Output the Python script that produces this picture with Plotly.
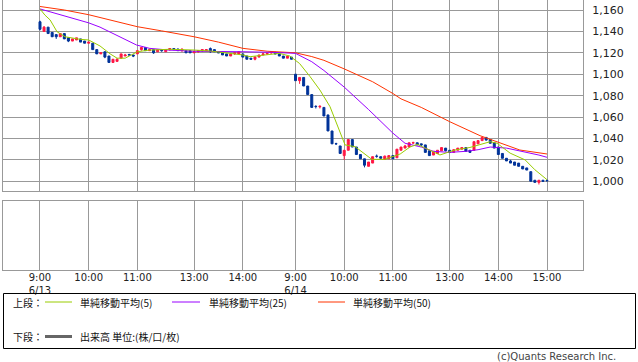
import plotly.graph_objects as go

W, H = 638, 362

# ---------------- data ----------------
# 5-minute bars, index 0 = 6/13 9:00 ... index 125 = 6/14 15:00
bar_index = list(range(126))
opens = [1149, 1140, 1144, 1139, 1137, 1135, 1138, 1134, 1131, 1132,
         1133, 1131, 1129, 1129, 1123, 1119, 1121, 1117, 1111, 1112,
         1115, 1117, 1118.5, 1118, 1119, 1123, 1125, 1122, 1123, 1121,
         1123, 1121, 1123, 1124, 1123.5, 1122, 1122, 1122, 1120, 1121,
         1122, 1122, 1124, 1123, 1121, 1120, 1119, 1117, 1119, 1119,
         1119, 1117, 1115, 1114, 1116, 1118, 1119, 1120, 1120, 1119,
         1117, 1115, 1116,
         1100, 1094, 1097, 1089, 1081, 1070, 1069.5, 1069, 1062, 1047,
         1035.2, 1033, 1024, 1029, 1039, 1032, 1025, 1021, 1014, 1017,
         1023.5, 1023, 1020.5, 1021, 1024, 1022, 1029, 1031, 1032, 1035.8,
         1036, 1035, 1034, 1028.5, 1024.5, 1026, 1028.5, 1031, 1029, 1027,
         1029, 1030, 1031.5, 1029, 1029, 1035, 1038, 1041, 1039, 1036,
         1032, 1026, 1021.5, 1019, 1018, 1017, 1014, 1012.5, 1009, 1001,
         999, 1001, 1001]
highs = [1150, 1145, 1144, 1139, 1137, 1138, 1138, 1134, 1133, 1134,
         1133, 1131, 1130, 1129, 1123, 1120, 1121, 1117, 1114, 1115,
         1119, 1119, 1119, 1118, 1122, 1125, 1125, 1124, 1123, 1123,
         1123, 1123, 1124, 1124, 1124, 1124, 1122, 1122, 1122, 1122,
         1123, 1123, 1125, 1123, 1121, 1120, 1119, 1119, 1120, 1121,
         1119, 1117, 1115, 1117, 1118, 1120, 1120, 1121, 1121, 1119,
         1117, 1117, 1116,
         1100, 1097, 1097, 1089, 1081, 1071, 1071, 1069, 1062, 1047,
         1036, 1033, 1029, 1039, 1039, 1032, 1025, 1021, 1018, 1023,
         1025, 1023, 1024, 1024, 1024, 1030, 1032, 1034, 1036, 1037,
         1036, 1035, 1034, 1028.5, 1028, 1029, 1031.5, 1031, 1029, 1030,
         1031, 1032, 1031.5, 1029, 1037, 1038, 1041, 1041, 1039, 1036,
         1032, 1026, 1021.5, 1020, 1018, 1017, 1014, 1012.5, 1009, 1001,
         1001, 1001, 1001]
lows = [1141, 1140, 1138, 1135, 1133, 1135, 1133, 1130, 1131, 1132,
        1130, 1129, 1129, 1123, 1119, 1119, 1115, 1111, 1111, 1112,
        1115, 1117, 1117, 1116, 1119, 1122, 1122, 1122, 1119, 1121,
        1121, 1121, 1122, 1123, 1122, 1121, 1120, 1120, 1120, 1120,
        1121, 1122, 1120, 1121, 1120, 1118, 1117, 1117, 1118, 1119,
        1116, 1114, 1114, 1113, 1116, 1118, 1118, 1119, 1119, 1117,
        1115, 1115, 1114,
        1094, 1091, 1089, 1081, 1069, 1068, 1068, 1061, 1047, 1035,
        1034, 1026, 1020, 1029, 1032, 1025, 1021, 1013, 1014, 1017,
        1022, 1021, 1020, 1021, 1021, 1022, 1029, 1031, 1032, 1035,
        1034, 1033, 1027, 1024, 1024.5, 1026, 1028.5, 1028, 1027, 1027,
        1029, 1030, 1028, 1027, 1029, 1035, 1038, 1038, 1035.5, 1031,
        1024.6, 1021.5, 1019, 1017, 1015, 1014, 1011.5, 1010.5, 1000, 999,
        997, 1000, 1000]
closes = [1142, 1144, 1138, 1135, 1135, 1138, 1133, 1131, 1133, 1134,
          1130, 1129, 1130, 1123, 1119, 1120, 1116, 1111, 1114, 1114,
          1119, 1118, 1118, 1117, 1122, 1125, 1122, 1123, 1120, 1123,
          1122, 1123, 1124, 1123, 1122, 1123.5, 1120, 1120, 1121, 1122,
          1123, 1123, 1121, 1121, 1120, 1118, 1117, 1119, 1120, 1121,
          1116, 1114, 1114, 1116, 1118, 1119, 1119.5, 1121, 1119, 1117,
          1115, 1117, 1114,
          1094, 1097, 1089, 1081, 1069, 1069.8, 1070, 1061, 1047, 1035,
          1035, 1026, 1029, 1039, 1032, 1025, 1021, 1015, 1018, 1023,
          1023.3, 1021.5, 1023.5, 1024, 1021, 1030, 1032, 1033, 1036, 1036,
          1034, 1034, 1027, 1024, 1028, 1029, 1031.5, 1028.5, 1027, 1029.5,
          1031, 1031.5, 1028, 1027, 1037, 1038, 1041, 1038.5, 1035.5, 1031,
          1025, 1021.5, 1019, 1017, 1015, 1014, 1011.5, 1010.5, 1000, 999,
          1001, 1000, 1000.5]

# moving averages (bar index, value)
sma5_idx = [0, 1.2, 2.5, 3.7, 4.2, 6.2, 9.9, 12, 14.8, 17.3, 19, 21, 24, 27, 32,
            38, 42, 46.8, 50, 51.8, 55.5, 59, 61.6, 64, 66.6, 69, 71.5, 74,
            75.2, 77.7, 80, 81.8, 85, 88.8, 91.2, 93, 96, 98.6, 102.3, 106,
            111, 112.7, 115.9, 119.6, 122, 125]
sma5_val = [1161, 1155.3, 1150.7, 1143, 1139.7, 1135, 1132.6, 1132, 1126.4, 1119,
            1115, 1115, 1121, 1122.6, 1123.3, 1122.6, 1121.7, 1119.5, 1118,
            1116.4, 1118, 1119.5, 1117, 1110, 1097.7, 1085.3, 1069.7, 1044.8,
            1034, 1032.3, 1026, 1020.5, 1020.5, 1025.5, 1032, 1034.5, 1029.2,
            1024.6, 1029.2, 1031.6, 1037, 1035.5, 1026.3, 1020, 1010.8, 1001.5]
sma25_idx = [0, 6, 12, 14.8, 19.7, 23.8, 27, 32, 38, 45, 50, 57, 63, 67, 70,
             75, 81, 87, 90, 94, 97, 101, 105, 108, 111, 115, 119, 123, 125]
sma25_val = [1161, 1154.5, 1148, 1144, 1135.2, 1127.3, 1124.2, 1122.5, 1121.5,
             1121.5, 1121, 1120.5, 1119.5, 1111.7, 1103.5, 1088, 1067, 1045,
             1035.5, 1032, 1028, 1027, 1028, 1029.5, 1032, 1031, 1028, 1024.5,
             1022.4]
sma50_idx = [0, 6, 12, 17.3, 24, 30, 38, 44, 50, 56, 63, 67, 70, 75, 82, 87,
             89, 94, 101, 108.5, 112.7, 118.3, 125]
sma50_val = [1163.3, 1160, 1155.6, 1150.7, 1144.4, 1140.5, 1135, 1130, 1124.2,
             1121.5, 1120, 1116.5, 1113, 1105, 1093, 1082, 1077, 1069, 1055.7,
             1042.6, 1037, 1029.2, 1025.5]

tick_idx = [0, 12, 24, 38, 50, 63, 75, 87, 101, 113, 125]
tick_text = ["9:00<br>6/13", "10:00", "11:00", "13:00", "14:00",
             "9:00<br>6/14", "10:00", "11:00", "13:00", "14:00", "15:00"]
price_ticks = [1000, 1020, 1040, 1060, 1080, 1100, 1120, 1140, 1160]
price_labels = ["1,000", "1,020", "1,040", "1,060", "1,080", "1,100",
                "1,120", "1,140", "1,160"]

legend_names = ["単純移動平均(5)", "単純移動平均(25)", "単純移動平均(50)"]
legend_colors = ["#99cc00", "#9900ff", "#ff3300"]

# ---------------- figure ----------------
UP = "#ff1744"
DOWN = "#003399"
GRID = "#999999"

fig = go.Figure()
fig.add_trace(go.Candlestick(
    x=bar_index, open=opens, high=highs, low=lows, close=closes,
    increasing=dict(line=dict(color=UP, width=1), fillcolor=UP),
    decreasing=dict(line=dict(color=DOWN, width=1), fillcolor=DOWN),
    whiskerwidth=0, showlegend=False, hoverinfo="skip",
    xaxis="x", yaxis="y"))
for ix, val, col in [(sma50_idx, sma50_val, legend_colors[2]),
                     (sma25_idx, sma25_val, legend_colors[1]),
                     (sma5_idx, sma5_val, legend_colors[0])]:
    fig.add_trace(go.Scatter(x=ix, y=val, mode="lines",
                             line=dict(color=col, width=1),
                             showlegend=False, hoverinfo="skip",
                             xaxis="x", yaxis="y"))
# empty volume panel (keeps the lower subplot)
fig.add_trace(go.Scatter(x=[0], y=[-10], mode="markers",
                         marker=dict(opacity=0), showlegend=False,
                         hoverinfo="skip", xaxis="x2", yaxis="y2"))

def px_x(p):
    return p / W

def px_y(p):
    return 1 - p / H

x_left, x_right = 3, 583
xr = [-9.12, 133.87]

common_x = dict(range=xr, tickmode="array", tickvals=tick_idx,
                showgrid=True, gridcolor=GRID, gridwidth=1,
                showline=True, linecolor=GRID, linewidth=1, mirror=True,
                zeroline=False, ticks="", fixedrange=True,
                domain=[px_x(x_left), px_x(x_right)])

fig.update_layout(
    width=W, height=H,
    margin=dict(l=0, r=0, t=0, b=0, autoexpand=False),
    paper_bgcolor="white", plot_bgcolor="white",
    font=dict(family="DejaVu Sans", size=10, color="#000"),
    showlegend=False,
    xaxis=dict(**common_x, anchor="y", showticklabels=False,
               rangeslider=dict(visible=False)),
    yaxis=dict(domain=[px_y(190.5), 1], range=[991.4, 1169.34],
               side="right", tickmode="array", tickvals=price_ticks,
               ticktext=price_labels, showgrid=True, gridcolor=GRID,
               showline=True, linecolor=GRID, linewidth=1, mirror=True,
               zeroline=False, ticks="outside", ticklen=6,
               tickcolor="rgba(0,0,0,0)", anchor="x",
               tickfont=dict(family="DejaVu Sans", size=11, color="#222"),
               fixedrange=True),
    xaxis2=dict(**common_x, anchor="y2", showticklabels=True,
                ticktext=tick_text, ticklabelstandoff=-2,
                tickfont=dict(family="DejaVu Sans", size=10, color="#222")),
    yaxis2=dict(domain=[px_y(270), px_y(201)], range=[0, 1],
                showgrid=False, showticklabels=False, ticks="",
                showline=True, linecolor=GRID, linewidth=1, mirror=True,
                zeroline=False, anchor="x2", fixedrange=True),
)

# legend box
shapes = [dict(type="rect", xref="paper", yref="paper",
               x0=px_x(3.5), x1=px_x(635.5), y0=px_y(348.5), y1=px_y(293.5),
               line=dict(color="#000", width=1), fillcolor="rgba(0,0,0,0)")]
leg_line_x = [(45, 72), (172, 200), (318, 345)]
leg_text_x = [78, 207, 351]
for (a, b), tx, name, col in zip(leg_line_x, leg_text_x, legend_names, legend_colors):
    shapes.append(dict(type="line", xref="paper", yref="paper",
                       x0=px_x(a), x1=px_x(b), y0=px_y(302), y1=px_y(302),
                       line=dict(color=col, width=1)))
shapes.append(dict(type="line", xref="paper", yref="paper",
                   x0=px_x(45), x1=px_x(72), y0=px_y(336.5), y1=px_y(336.5),
                   line=dict(color="#666666", width=3)))
fig.update_layout(shapes=shapes)

cjk = "Noto Sans CJK JP"
ann = [dict(x=px_x(11), y=px_y(302), text="上段：", xanchor="left")]
for tx, name in zip(leg_text_x, legend_names):
    ann.append(dict(x=px_x(tx), y=px_y(302), text=name, xanchor="left"))
ann.append(dict(x=px_x(11), y=px_y(336), text="下段：", xanchor="left"))
ann.append(dict(x=px_x(78), y=px_y(336), text="出来高 単位:(株/口/枚)", xanchor="left"))
for a in ann:
    a.update(xref="paper", yref="paper", yanchor="middle", showarrow=False,
             font=dict(family=cjk, size=10, color="#111"))
ann.append(dict(x=px_x(618), y=px_y(356), text="(c)Quants Research Inc.",
                xref="paper", yref="paper", xanchor="right", yanchor="middle",
                showarrow=False,
                font=dict(family="DejaVu Sans", size=10, color="#444")))
fig.update_layout(annotations=ann)

fig.write_html("out.html", config={"displayModeBar": False},
               post_script="document.body.style.margin='0';"
                           "document.body.style.overflow='hidden';")
